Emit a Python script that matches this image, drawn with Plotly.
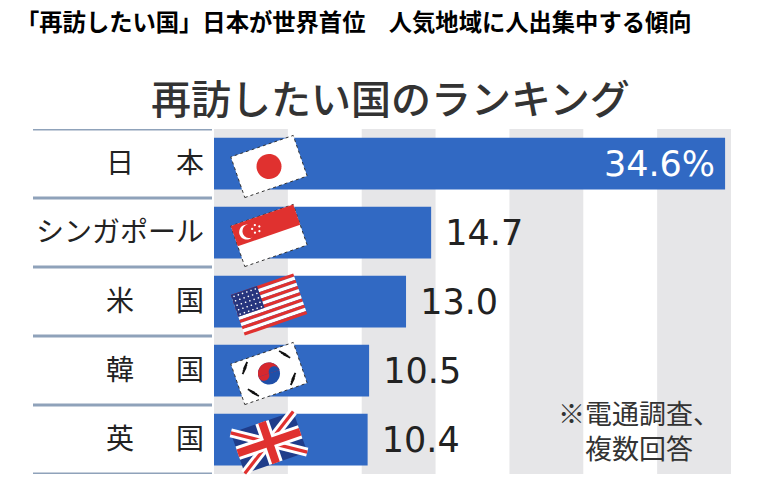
import math
import plotly.graph_objects as go

# data
countries = ["日\u3000\u2002本", "シンガポール", "米\u3000\u2002国", "韓\u3000\u2002国", "英\u3000\u2002国"]
shares = [34.6, 14.7, 13.0, 10.5, 10.4]
flags = ["jp", "sg", "us", "kr", "uk"]

headline = "「再訪したい国」日本が世界首位\u3000人気地域に人出集中する傾向"
chart_title = "再訪したい国のランキング"
note = "※電通調査、<br>\u3000複数回答"

# the page body adds an 8px offset, so the figure is drawn 8px in from the window corner
OFF = 8
W, H = 763 - OFF, 494 - OFF
# plot area in window pixels
X0, X1, Y0, Y1 = 214, 731, 129, 474
PW, PH = X1 - X0, Y1 - Y0
L, T = X0 - OFF, Y0 - OFF
R, B = W - (X1 - OFF), H - (Y1 - OFF)
JP_FONT = "Noto Sans CJK JP"
BAR_BLUE = "#3169c3"


def px(x):
    return (x - X0) / PW


def py(y):
    return (Y1 - y) / PH


labels = [f"{v}%\u2009" if i == 0 else f"\u00a0{v:.1f}" for i, v in enumerate(shares)]
positions = ["inside" if i == 0 else "outside" for i in range(len(shares))]

fig = go.Figure()
fig.add_trace(go.Bar(
    x=shares, y=countries, orientation="h", width=0.75,
    marker=dict(color=BAR_BLUE, line=dict(width=0)),
    text=labels, textposition=positions, insidetextanchor="end",
    insidetextfont=dict(family="DejaVu Sans", size=35, color="white"),
    outsidetextfont=dict(family="DejaVu Sans", size=35, color="#222"),
    constraintext="none", cliponaxis=False, hoverinfo="skip",
))

shapes = []
# background stripes every 5 points
for s in range(0, 35, 10):
    shapes.append(dict(type="rect", xref="x", yref="paper", x0=s, x1=s + 5, y0=0, y1=1,
                       fillcolor="#e6e6e8", line=dict(width=0), layer="below"))
# row separators on the label side
for k in range(len(countries) + 1):
    shapes.append(dict(type="line", xref="paper", yref="y", x0=px(33), x1=px(212),
                       y0=k - 0.5, y1=k - 0.5, line=dict(color="#8fa2ba", width=3)))


# flag helpers (local coords u, v in flag pixels, v up)
FW, FH, ANG = 66, 43, math.radians(19)


def to_paper(cx, cy, u, v):
    X = u * math.cos(ANG) - v * math.sin(ANG)
    Y = u * math.sin(ANG) + v * math.cos(ANG)
    return px(cx + X), py(cy - Y)


def poly(cx, cy, pts, fill, line=None):
    coords = [to_paper(cx, cy, u, v) for u, v in pts]
    path = "M " + " L ".join(f"{a:.5f},{b:.5f}" for a, b in coords) + " Z"
    shapes.append(dict(type="path", xref="paper", yref="paper", path=path,
                       fillcolor=fill, line=line or dict(width=0)))


def rect(cx, cy, u0, v0, u1, v1, fill, line=None):
    poly(cx, cy, [(u0, v0), (u1, v0), (u1, v1), (u0, v1)], fill, line)


def disc(cx, cy, uc, vc, r, fill, a0=0, a1=360):
    n = 40
    pts = [(uc + r * math.cos(math.radians(a0 + (a1 - a0) * i / n)),
            vc + r * math.sin(math.radians(a0 + (a1 - a0) * i / n))) for i in range(n + 1)]
    poly(cx, cy, pts, fill)


def band(cx, cy, p0, p1, half, fill):
    # thick line from p0 to p1 in local coords
    dx, dy = p1[0] - p0[0], p1[1] - p0[1]
    n = math.hypot(dx, dy)
    ox, oy = -dy / n * half, dx / n * half
    poly(cx, cy, [(p0[0] + ox, p0[1] + oy), (p1[0] + ox, p1[1] + oy),
                  (p1[0] - ox, p1[1] - oy), (p0[0] - ox, p0[1] - oy)], fill)


hw, hh = FW / 2, FH / 2
dashed = dict(color="#333", width=1, dash="dot")
RED, WHITE, NAVY = "#e0312f", "#ffffff", "#27357e"

for i, f in enumerate(flags):
    cx, cy = 269, Y0 + PH / len(flags) * (i + 0.5) + 3
    if f == "jp":
        rect(cx, cy, -hw, -hh, hw, hh, WHITE, dashed)
        disc(cx, cy, 0, 0, 12.5, RED)
    elif f == "sg":
        rect(cx, cy, -hw, -hh, hw, hh, WHITE, dashed)
        rect(cx, cy, -hw, 0, hw, hh, RED)
        disc(cx, cy, -20, 10.5, 7.5, WHITE)
        disc(cx, cy, -17, 10.5, 7, RED)
        for k in range(5):
            a = math.radians(90 + 72 * k)
            disc(cx, cy, -10 + 4 * math.cos(a), 10.5 + 4 * math.sin(a), 1.1, WHITE)
    elif f == "us":
        sh = FH / 13
        for k in range(13):
            rect(cx, cy, -hw, hh - sh * (k + 1), hw, hh - sh * k, RED if k % 2 == 0 else WHITE)
        rect(cx, cy, -hw, hh - sh * 7, -hw + FW * 0.42, hh, NAVY)
        for r_ in range(5):
            for c_ in range(6):
                disc(cx, cy, -hw + 2.6 + c_ * 4.5, hh - 2.4 - r_ * 4.7, 0.8, WHITE)
    elif f == "kr":
        rect(cx, cy, -hw, -hh, hw, hh, WHITE, dashed)
        disc(cx, cy, 0, 0, 11, "#1f4fa8")
        disc(cx, cy, 0, 0, 11, "#d6282e", 0, 180)
        disc(cx, cy, -5.5, 0, 5.5, "#d6282e", 180, 360)
        disc(cx, cy, 5.5, 0, 5.5, "#1f4fa8", 0, 180)
        for sx, sy in [(-1, 1), (1, 1), (-1, -1), (1, -1)]:
            ux, uy = sx * 21, sy * 13
            for k in range(3):
                off = (k - 1) * 2.6
                nx, ny = -sy * 0.55, sx * 0.55
                band(cx, cy, (ux + off * sx * 0.55 - nx * 5, uy - off * sy * 0.85 - ny * 5),
                     (ux + off * sx * 0.55 + nx * 5, uy - off * sy * 0.85 + ny * 5), 0.9, "#111")
    elif f == "uk":
        rect(cx, cy, -hw, -hh, hw, hh, "#1f3c8a")
        band(cx, cy, (-hw, -hh), (hw, hh), 4.5, WHITE)
        band(cx, cy, (-hw, hh), (hw, -hh), 4.5, WHITE)
        band(cx, cy, (-hw, -hh), (hw, hh), 1.6, RED)
        band(cx, cy, (-hw, hh), (hw, -hh), 1.6, RED)
        rect(cx, cy, -hw, -7, hw, 7, WHITE)
        rect(cx, cy, -7, -hh, 7, hh, WHITE)
        rect(cx, cy, -hw, -4, hw, 4, RED)
        rect(cx, cy, -4, -hh, 4, hh, RED)

fig.update_layout(
    width=W, height=H, autosize=False,
    margin=dict(l=L, r=R, t=T, b=B),
    paper_bgcolor="white", plot_bgcolor="white",
    showlegend=False, bargap=0.25,
    xaxis=dict(range=[0, 35], visible=False, fixedrange=True),
    yaxis=dict(range=[len(countries) - 0.5, -0.5], showgrid=False, zeroline=False,
               showline=False, ticks="", ticklabelstandoff=9,
               tickfont=dict(family=JP_FONT, size=28, color="#222")),
    shapes=shapes,
    annotations=[
        dict(text=f"<b>{headline}</b>", xref="paper", yref="paper", x=px(14), y=py(21),
             xanchor="left", yanchor="middle", showarrow=False,
             font=dict(family=JP_FONT, size=23.3, color="#000")),
        dict(text=chart_title, xref="paper", yref="paper", x=px(390), y=py(97),
             xanchor="center", yanchor="middle", showarrow=False,
             font=dict(family=JP_FONT, size=40, color="#333", weight=500)),
        dict(text=note, xref="paper", yref="paper", x=px(556), y=py(430),
             xanchor="left", yanchor="middle", align="left", showarrow=False,
             font=dict(family=JP_FONT, size=27, color="#333")),
    ],
)

fig.write_html("out.html")
